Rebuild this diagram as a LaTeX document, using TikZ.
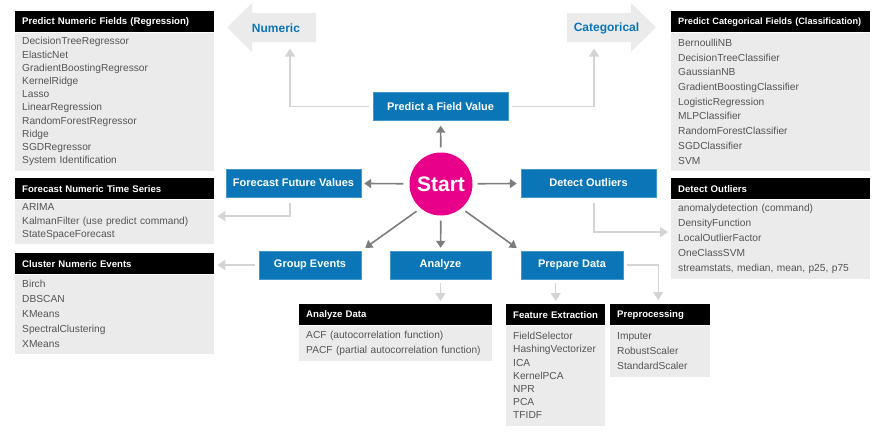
\documentclass[tikz,border=0pt]{standalone}
\usepackage{fontspec}
\setmainfont{Liberation Sans}
\usetikzlibrary{arrows.meta}

\definecolor{splblue}{HTML}{0A76B8}
\definecolor{splpink}{HTML}{E8008A}
\definecolor{panel}{HTML}{EBEBEB}
\definecolor{listtext}{HTML}{555555}
\definecolor{darkarr}{HTML}{7D7D7D}
\definecolor{lightarr}{HTML}{D4D4D4}

\tikzset{
  action/.style={fill=splblue,draw=splblue!75!white,text=white,font=\bfseries\fontsize{11}{13}\selectfont,minimum height=28pt,inner sep=0pt},
  hdr/.style={fill=black,text=white,anchor=north west,align=left,inner xsep=7pt,inner ysep=0pt,minimum height=21pt,font=\bfseries\fontsize{9.6}{12}\selectfont},
  lst/.style={fill=panel,text=listtext,anchor=north west,align=left,inner xsep=7pt,inner ysep=2pt,font=\fontsize{10.2}{13.2}\selectfont},
  lstwide/.style={lst,font=\fontsize{10.2}{15}\selectfont},
  tag/.style={text=splblue,font=\bfseries\fontsize{12}{14}\selectfont},
  darr/.style={draw=darkarr,line width=1.6pt,-{Triangle[width=9pt,length=7pt]}},
  larr/.style={draw=lightarr,line width=1.4pt,-{Triangle[width=10pt,length=8pt]}}
}

\begin{document}
\begin{tikzpicture}[x=1pt,y=-1pt]
\useasboundingbox (0,0) rectangle (883,431);

% numeric / categorical arrows
\fill[panel] (227,27.5) -- (252,3) -- (252,13) -- (316,13) -- (316,42) -- (252,42) -- (252,52) -- cycle;
\fill[panel] (656,27.5) -- (631,3) -- (631,13) -- (567,13) -- (567,42) -- (631,42) -- (631,52) -- cycle;
\node[tag] (numeric) at (276,28) {Numeric};
\node[tag] (categorical) at (606.5,28) {Categorical};
\coordinate (numtip) at (290,48.5);
\coordinate (cattip) at (594,48.5);

% panels
\node[hdr,text width=185pt] (reghdr) at (15,11) {Predict Numeric Fields (Regression)};
\node[lst,text width=185pt,minimum height=138pt] (reglist) at (reghdr.south west) {DecisionTreeRegressor\\ElasticNet\\GradientBoostingRegressor\\KernelRidge\\Lasso\\LinearRegression\\RandomForestRegressor\\Ridge\\SGDRegressor\\System Identification};

\node[hdr,text width=185pt] (fcsthdr) at (15,178) {Forecast Numeric Time Series};
\node[lst,text width=185pt,minimum height=44pt] (fcstlist) at (fcsthdr.south west) {ARIMA\\KalmanFilter (use predict command)\\StateSpaceForecast};

\node[hdr,text width=185pt] (cluhdr) at (15,253) {Cluster Numeric Events};
\node[lstwide,text width=185pt,minimum height=79pt] (clulist) at (cluhdr.south west) {Birch\\DBSCAN\\KMeans\\SpectralClustering\\XMeans};

\node[hdr,text width=185pt,font=\bfseries\fontsize{9.2}{12}\selectfont] (cathdr) at (671,11) {Predict Categorical Fields (Classification)};
\node[lst,text width=185pt,minimum height=138pt,font=\fontsize{10.2}{14.7}\selectfont] (catlist) at (cathdr.south west) {BernoulliNB\\DecisionTreeClassifier\\GaussianNB\\GradientBoostingClassifier\\LogisticRegression\\MLPClassifier\\RandomForestClassifier\\SGDClassifier\\SVM};

\node[hdr,text width=185pt] (outhdr) at (671,178) {Detect Outliers};
\node[lstwide,text width=185pt,minimum height=79pt] (outlist) at (outhdr.south west) {anomalydetection (command)\\DensityFunction\\LocalOutlierFactor\\OneClassSVM\\streamstats, median, mean, p25, p75};

\node[hdr,text width=179pt] (anahdr) at (299,304) {Analyze Data};
\node[lstwide,text width=179pt,minimum height=35pt] (analist) at (anahdr.south west) {ACF (autocorrelation function)\\PACF (partial autocorrelation function)};

\node[hdr,text width=85pt] (feathdr) at (506,304) {Feature Extraction};
\node[lst,text width=85pt,minimum height=100pt] (featlist) at (feathdr.south west) {FieldSelector\\HashingVectorizer\\ICA\\KernelPCA\\NPR\\PCA\\TFIDF};

\node[hdr,text width=86pt] (prephdr) at (610,304) {Preprocessing};
\node[lstwide,text width=86pt,minimum height=51pt] (preplist) at (prephdr.south west) {Imputer\\RobustScaler\\StandardScaler};

% actions
\node[action,minimum width=135pt] (predict) at (440.5,106.5) {Predict a Field Value};
\node[action,minimum width=135pt] (forecast) at (293.5,183) {Forecast Future Values};
\node[action,minimum width=135pt] (detect) at (588.5,183) {Detect Outliers};
\node[action,minimum width=102pt] (group) at (310,265) {Group Events};
\node[action,minimum width=101pt] (analyze) at (440.5,265) {Analyze};
\node[action,minimum width=102pt] (prepare) at (572,265) {Prepare Data};

\node[circle,fill=splpink,text=white,minimum size=63pt,inner sep=0pt,font=\bfseries\fontsize{21}{24}\selectfont] (start) at (441,184) {Start};

% from start
\draw[darr,shorten <=5pt,shorten >=5pt] (start) -- (predict);
\draw[darr,shorten <=6pt,shorten >=3pt] (start) -- (forecast);
\draw[darr,shorten <=5pt,shorten >=4pt] (start) -- (detect);
\draw[darr,shorten <=5pt,shorten >=3pt] (start) -- (analyze);
\draw[darr,shorten <=5pt,shorten >=5pt] (start.230) -- (group.north east);
\draw[darr,shorten <=5pt,shorten >=5pt] (start.-50) -- (prepare.north west);

% to the lists
\draw[larr,shorten <=4pt] (predict.west) -| (numtip);
\draw[larr,shorten <=4pt] (predict.east) -| (cattip);
\draw[larr,shorten <=6pt,shorten >=3pt] ([xshift=-3.5pt]forecast.south) |- ([yshift=5.5pt]fcstlist.east);
\draw[larr,shorten <=6pt,shorten >=3pt] ([xshift=5.5pt]detect.south) |- ([yshift=7pt]outlist.west);
\draw[larr,shorten <=4pt,shorten >=3pt] (group.west) -- (group.west -| clulist.east);
\draw[larr,shorten <=4pt,shorten >=3pt] (analyze.south) -- (analyze.south |- anahdr.north);
\draw[larr,shorten <=4pt,shorten >=3pt] (prepare.south -| feathdr.north) -- (feathdr.north);
\draw[larr,shorten <=4pt,shorten >=4pt] (prepare.east) -| ([xshift=-2pt]prephdr.north);
\end{tikzpicture}
\end{document}
